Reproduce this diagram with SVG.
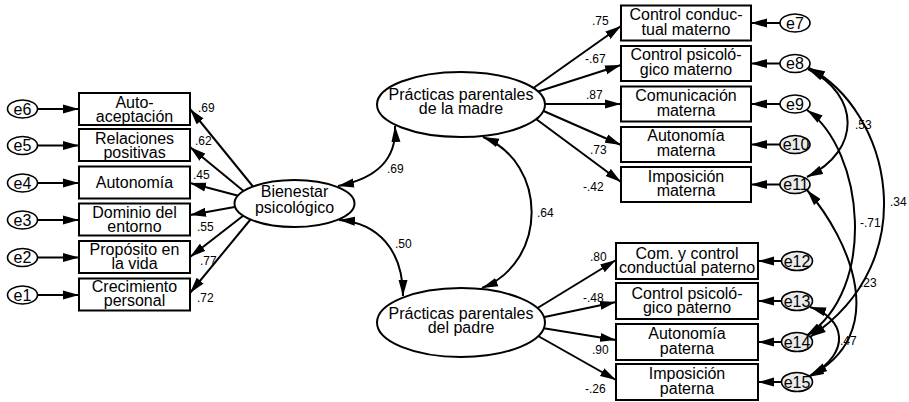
<svg xmlns="http://www.w3.org/2000/svg" width="909" height="402" viewBox="0 0 909 402">
<defs>
<marker id="ah" viewBox="0 0 16 10" refX="16" refY="5" markerWidth="16" markerHeight="10" orient="auto-start-reverse" markerUnits="userSpaceOnUse"><path d="M0,0.5 L16,5 L0,9.5 Z" fill="#000"/></marker>
<style>
.box{fill:#fff;stroke:#000;stroke-width:2}
.lat{fill:#fff;stroke:#000;stroke-width:2}
.err{fill:#fff;stroke:#000;stroke-width:1.6}
.err2{fill:#ebebeb;stroke:#000;stroke-width:1.6}
.t{font-family:"Liberation Sans",Arial,sans-serif;font-size:16px;text-anchor:middle;fill:#000}
.lb{font-family:"Liberation Sans",Arial,sans-serif;font-size:12px;fill:#000}
.c{fill:none;stroke:#000;stroke-width:2}
.a{marker-end:url(#ah)}
.cv{marker-start:url(#ah);marker-end:url(#ah)}
</style>
</defs>
<rect width="909" height="402" fill="#fff"/>
<g id="connectors">
<line class="c a" x1="30" y1="109" x2="79" y2="109"/>
<line class="c a" x1="30" y1="145.5" x2="79" y2="145.5"/>
<line class="c a" x1="30" y1="183" x2="79" y2="183"/>
<line class="c a" x1="30" y1="220" x2="79" y2="220"/>
<line class="c a" x1="30" y1="257.5" x2="79" y2="257.5"/>
<line class="c a" x1="30" y1="295" x2="79" y2="295"/>
<line class="c a" x1="255" y1="189" x2="190" y2="109"/>
<line class="c a" x1="246" y1="193" x2="190" y2="147"/>
<line class="c a" x1="243" y1="197" x2="190" y2="183"/>
<line class="c a" x1="243" y1="205.6" x2="190" y2="215"/>
<line class="c a" x1="248" y1="212" x2="190" y2="257"/>
<line class="c a" x1="255" y1="214" x2="190" y2="293"/>
<line class="c a" x1="532" y1="89" x2="621" y2="26"/>
<line class="c a" x1="533.5" y1="93" x2="621" y2="65"/>
<line class="c a" x1="535" y1="104" x2="621" y2="104"/>
<line class="c a" x1="539" y1="109" x2="621" y2="145"/>
<line class="c a" x1="532" y1="116" x2="621" y2="182"/>
<line class="c a" x1="531" y1="312" x2="616" y2="260"/>
<line class="c a" x1="535" y1="319" x2="616" y2="302"/>
<line class="c a" x1="533" y1="326.4" x2="616" y2="340"/>
<line class="c a" x1="531" y1="332" x2="616" y2="380"/>
<line class="c a" x1="788" y1="23" x2="751" y2="23"/>
<line class="c a" x1="788" y1="63.5" x2="751" y2="63.5"/>
<line class="c a" x1="788" y1="104" x2="751" y2="104"/>
<line class="c a" x1="788" y1="144.5" x2="751" y2="144.5"/>
<line class="c a" x1="788" y1="184.5" x2="751" y2="184.5"/>
<line class="c a" x1="790" y1="261" x2="758" y2="261"/>
<line class="c a" x1="790" y1="301" x2="758" y2="301"/>
<line class="c a" x1="790" y1="342" x2="758" y2="342"/>
<line class="c a" x1="790" y1="382" x2="758" y2="382"/>
<path class="c cv" d="M338 186 C375 179 397 160 395 126"/>
<path class="c cv" d="M339 220 C378 223 403 250 403 296"/>
<path class="c cv" d="M483 137 C548 163 548 262 482 288"/>
<path class="c cv" d="M808 69 C860 95 862 150 807 177"/>
<path class="c cv" d="M809 68 C890 110 926 260 810 337"/>
<path class="c cv" d="M807 110 C864 150 878 290 806 336"/>
<path class="c cv" d="M807 190 C850 240 892 335 808 377"/>
<path class="c cv" d="M810 307 C845 318 852 352 811 375"/>
<text class="lb" x="198" y="112">.69</text>
<text class="lb" x="195" y="145">.62</text>
<text class="lb" x="193" y="179">.45</text>
<text class="lb" x="197" y="231">.55</text>
<text class="lb" x="200" y="265">.77</text>
<text class="lb" x="197" y="302">.72</text>
<text class="lb" x="387" y="173">.69</text>
<text class="lb" x="395" y="248">.50</text>
<text class="lb" x="537" y="217">.64</text>
<text class="lb" x="592" y="25">.75</text>
<text class="lb" x="585" y="63">-.67</text>
<text class="lb" x="586" y="99">.87</text>
<text class="lb" x="590" y="154">.73</text>
<text class="lb" x="583" y="191">-.42</text>
<text class="lb" x="590" y="261">.80</text>
<text class="lb" x="583" y="302">-.48</text>
<text class="lb" x="592" y="354">.90</text>
<text class="lb" x="585" y="393">-.26</text>
<text class="lb" x="855" y="129">.53</text>
<text class="lb" x="890" y="206">.34</text>
<text class="lb" x="860" y="227">-.71</text>
<text class="lb" x="860" y="287">.23</text>
<text class="lb" x="840" y="345">.47</text>
</g>
<g id="e6"><ellipse class="err" cx="22.5" cy="109" rx="15" ry="9"/><text class="t" x="22.5" y="114.5">e6</text></g>
<g id="e5"><ellipse class="err" cx="22.5" cy="145.5" rx="15" ry="9"/><text class="t" x="22.5" y="151">e5</text></g>
<g id="e4"><ellipse class="err" cx="22.5" cy="183" rx="15" ry="9"/><text class="t" x="22.5" y="188.5">e4</text></g>
<g id="e3"><ellipse class="err" cx="22.5" cy="220" rx="15" ry="9"/><text class="t" x="22.5" y="225.5">e3</text></g>
<g id="e2"><ellipse class="err" cx="22.5" cy="257.5" rx="15" ry="9"/><text class="t" x="22.5" y="263">e2</text></g>
<g id="e1"><ellipse class="err" cx="22.5" cy="295" rx="15" ry="9"/><text class="t" x="22.5" y="300.5">e1</text></g>
<g id="autoaceptacion"><rect class="box" x="79" y="93" width="111" height="32"/><text class="t" x="134.5" y="107.5">Auto-</text><text class="t" x="134.5" y="121.5">aceptación</text></g>
<g id="relaciones"><rect class="box" x="79" y="129" width="111" height="32"/><text class="t" x="134.5" y="143.5">Relaciones</text><text class="t" x="134.5" y="157.5">positivas</text></g>
<g id="autonomia"><rect class="box" x="79" y="166.5" width="111" height="32"/><text class="t" x="134.5" y="188">Autonomía</text></g>
<g id="dominio"><rect class="box" x="79" y="203.5" width="111" height="32"/><text class="t" x="134.5" y="217.5">Dominio del</text><text class="t" x="134.5" y="231.5">entorno</text></g>
<g id="proposito"><rect class="box" x="79" y="241" width="111" height="32"/><text class="t" x="134.5" y="255">Propósito en</text><text class="t" x="134.5" y="269">la vida</text></g>
<g id="crecimiento"><rect class="box" x="79" y="278.5" width="111" height="32"/><text class="t" x="134.5" y="292">Crecimiento</text><text class="t" x="134.5" y="306">personal</text></g>
<g id="bienestar"><ellipse class="lat" cx="294.5" cy="203.5" rx="60" ry="23.5"/><text class="t" x="294.5" y="197">Bienestar</text><text class="t" x="294.5" y="213">psicológico</text></g>
<g id="madre"><ellipse class="lat" cx="461" cy="104.5" rx="84" ry="32.5"/><text class="t" x="461" y="100">Prácticas parentales</text><text class="t" x="461" y="114">de la madre</text></g>
<g id="padre"><ellipse class="lat" cx="461" cy="322.5" rx="84" ry="34.5"/><text class="t" x="461" y="319">Prácticas parentales</text><text class="t" x="461" y="333">del padre</text></g>
<g id="cc_materno"><rect class="box" x="621" y="5.5" width="130" height="35"/><text class="t" x="686" y="20">Control conduc-</text><text class="t" x="686" y="35">tual materno</text></g>
<g id="cp_materno"><rect class="box" x="621" y="46" width="130" height="35"/><text class="t" x="686" y="60">Control psicoló-</text><text class="t" x="686" y="74.5">gico materno</text></g>
<g id="com_materna"><rect class="box" x="621" y="86.5" width="130" height="35"/><text class="t" x="686" y="101">Comunicación</text><text class="t" x="686" y="115.5">materna</text></g>
<g id="aut_materna"><rect class="box" x="621" y="127" width="130" height="35"/><text class="t" x="686" y="141">Autonomía</text><text class="t" x="686" y="156">materna</text></g>
<g id="imp_materna"><rect class="box" x="621" y="167" width="130" height="35"/><text class="t" x="686" y="181.5">Imposición</text><text class="t" x="686" y="196">materna</text></g>
<g id="cc_paterno"><rect class="box" x="616" y="243" width="142" height="36"/><text class="t" x="687" y="258.5">Com. y control</text><text class="t" x="687" y="273">conductual paterno</text></g>
<g id="cp_paterno"><rect class="box" x="616" y="283" width="142" height="36"/><text class="t" x="687" y="298.5">Control psicoló-</text><text class="t" x="687" y="313">gico paterno</text></g>
<g id="aut_paterna"><rect class="box" x="616" y="324" width="142" height="36"/><text class="t" x="687" y="339">Autonomía</text><text class="t" x="687" y="353.5">paterna</text></g>
<g id="imp_paterna"><rect class="box" x="616" y="364" width="142" height="36"/><text class="t" x="687" y="379">Imposición</text><text class="t" x="687" y="394">paterna</text></g>
<g id="e7"><ellipse class="err" cx="795" cy="23" rx="15" ry="9"/><text class="t" x="795" y="28.5">e7</text></g>
<g id="e8"><ellipse class="err" cx="795" cy="63.5" rx="15" ry="9"/><text class="t" x="795" y="69">e8</text></g>
<g id="e9"><ellipse class="err" cx="795" cy="104" rx="15" ry="9"/><text class="t" x="795" y="109.5">e9</text></g>
<g id="e10"><ellipse class="err2" cx="795" cy="144.5" rx="15" ry="9"/><text class="t" x="796" y="150">e10</text></g>
<g id="e11"><ellipse class="err2" cx="795" cy="184.5" rx="15" ry="9"/><text class="t" x="796" y="190">e11</text></g>
<g id="e12"><ellipse class="err2" cx="797" cy="261" rx="15.5" ry="9.5"/><text class="t" x="797" y="266.5">e12</text></g>
<g id="e13"><ellipse class="err2" cx="797" cy="301" rx="15.5" ry="9.5"/><text class="t" x="797" y="306.5">e13</text></g>
<g id="e14"><ellipse class="err2" cx="797" cy="342" rx="15.5" ry="9.5"/><text class="t" x="797" y="347.5">e14</text></g>
<g id="e15"><ellipse class="err2" cx="797" cy="382" rx="15.5" ry="9.5"/><text class="t" x="797" y="387.5">e15</text></g>
</svg>
